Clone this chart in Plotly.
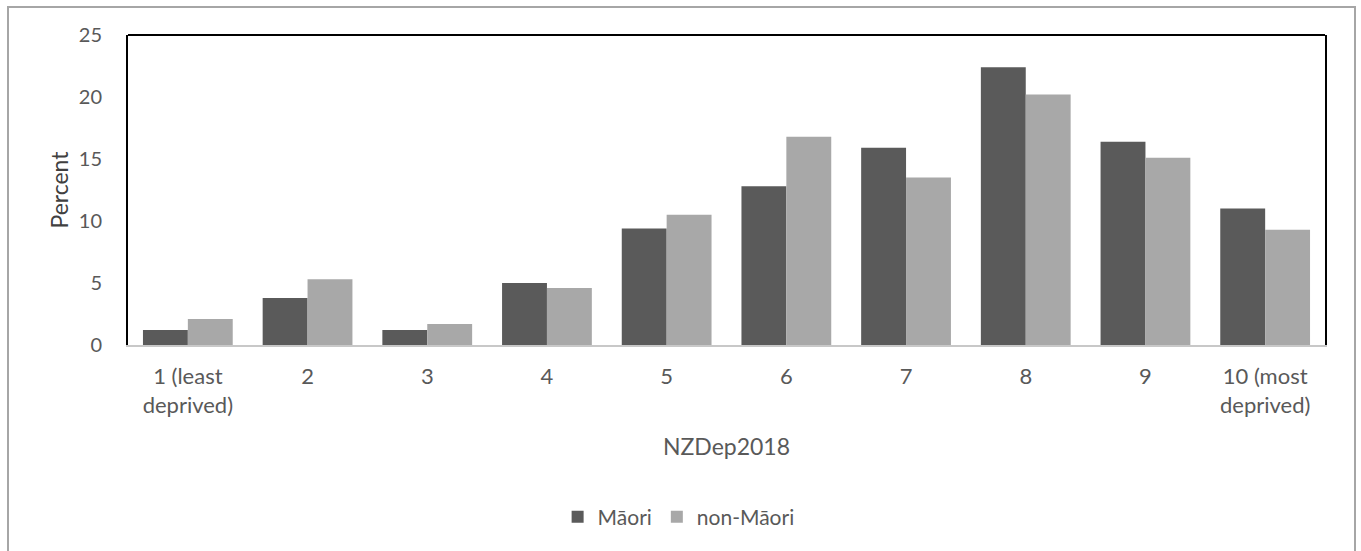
import plotly.graph_objects as go

categories = ["1 (least<br>deprived)", "2", "3", "4", "5", "6", "7", "8", "9", "10 (most<br>deprived)"]
maori = [1.2, 3.8, 1.2, 5.0, 9.4, 12.8, 15.9, 22.4, 16.4, 11.0]
non_maori = [2.1, 5.3, 1.7, 4.6, 10.5, 16.8, 13.5, 20.2, 15.1, 9.3]
y_ticks = [0, 5, 10, 15, 20, 25]

FONT = "Lato, 'Open Sans', sans-serif"
TXT = "#595959"

fig = go.Figure()
fig.add_trace(go.Bar(x=categories, y=maori, name="Māori",
                     marker=dict(color="#5a5a5a", line=dict(width=0))))
fig.add_trace(go.Bar(x=categories, y=non_maori, name="non-Māori",
                     marker=dict(color="#a8a8a8", line=dict(width=0))))

W, H = 1361, 551
L, R, T, B = 128, 36, 35, 206
pw, ph = W - L - R, H - T - B

fig.update_layout(
    width=W, height=H,
    margin=dict(l=L, r=R, t=T, b=B),
    paper_bgcolor="white", plot_bgcolor="white",
    barmode="group", bargap=0.25, bargroupgap=0,
    font=dict(family=FONT, color=TXT, size=19),
    showlegend=True,
    legend=dict(orientation="h", x=0.46, xanchor="center", y=(T + ph - 517) / ph, yanchor="middle",
                font=dict(size=21, color=TXT), itemwidth=30, traceorder="normal"),
    xaxis=dict(showline=True, linecolor="#c8c8c8", linewidth=2, showgrid=False,
               ticks="", ticklabelstandoff=11, tickfont=dict(size=22, color=TXT),
               title=dict(text="NZDep2018", font=dict(size=23, color=TXT), standoff=22)),
    yaxis=dict(range=[0, 25], tickvals=y_ticks, showgrid=False, zeroline=False,
               showline=True, linecolor="black", linewidth=2, mirror=True,
               ticks="", ticklabelstandoff=20, tickfont=dict(size=20, color=TXT),
               title=dict(text="Percent", font=dict(size=23, color="#404040"), standoff=4)),
)

# black top border of plot area
fig.add_shape(type="line", xref="paper", yref="paper", x0=0, x1=1, y0=1, y1=1,
              line=dict(color="black", width=2))
# outer chart frame
fig.add_shape(type="rect", xref="paper", yref="paper",
              x0=(8 - L) / pw, x1=(1355 - L) / pw,
              y0=(T + ph - 560) / ph, y1=(T + ph - 7) / ph,
              line=dict(color="#a6a6a6", width=2), layer="below")

fig.write_html("out.html")
